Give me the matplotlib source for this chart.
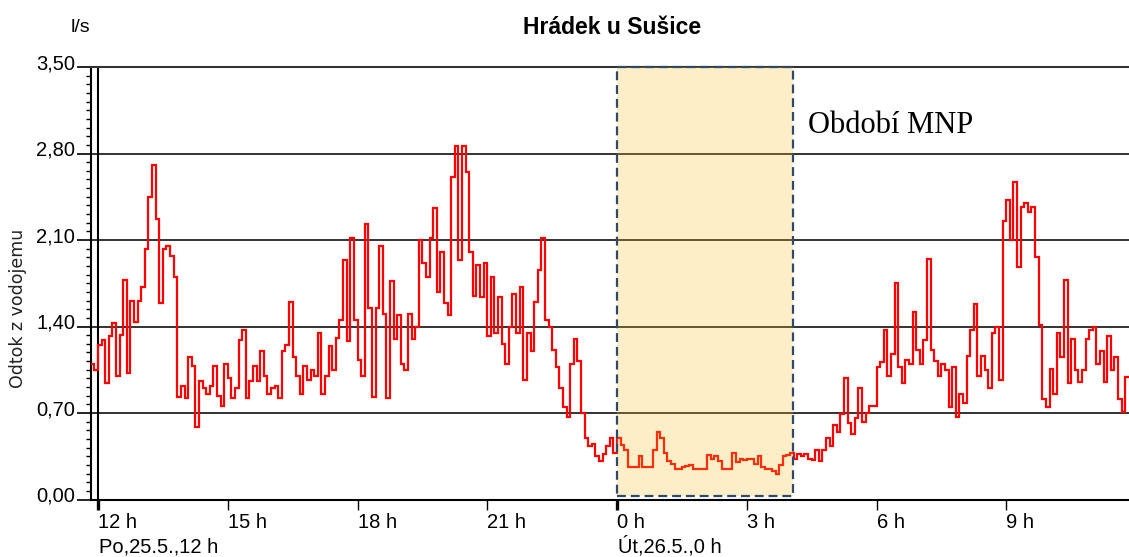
import numpy as np
import matplotlib
matplotlib.use("Agg")
import matplotlib.pyplot as plt
from matplotlib.ticker import MultipleLocator, FuncFormatter
from matplotlib.transforms import ScaledTranslation
from matplotlib.patches import Rectangle

plt.rcParams['font.family'] = ['Liberation Sans', 'DejaVu Sans']

# outflow from the reservoir, l/s, one value every 5 minutes from 11:50 (Po 25.5.)
start_min = -10          # minutes relative to 12:00
step_min = 5
flow = [
    1.10, 1.05, 1.25, 1.29, 0.94, 1.32, 1.43, 1.00, 1.33, 1.78,
    1.02, 1.61, 1.44, 1.61, 1.72, 2.03, 2.45, 2.71, 2.27, 1.59,
    2.03, 2.05, 1.97, 1.80, 0.83, 0.92, 0.82, 1.15, 1.08, 0.59,
    0.96, 0.90, 0.85, 0.92, 1.08, 0.84, 0.76, 1.10, 0.98, 0.82,
    0.90, 1.29, 1.37, 0.82, 0.96, 1.08, 0.96, 1.20, 1.00, 0.85,
    0.90, 0.92, 0.82, 1.20, 1.25, 1.60,
    1.15, 1.00, 0.85, 1.08,
    0.97, 1.05, 1.00, 1.35, 0.85, 1.00, 1.24, 1.05, 1.31, 1.45,
    1.94, 1.28, 2.12, 1.45, 1.13, 1.00, 2.23, 1.55, 0.83, 1.55,
    2.05, 1.50, 0.82, 1.77, 1.30, 1.49, 1.10, 1.05, 1.50, 1.30,
    1.40, 2.10, 1.91, 1.80, 2.12, 2.36, 1.68, 2.00, 1.59, 1.49,
    2.61, 2.86, 1.94, 2.86, 2.65, 2.00, 1.65, 1.90, 1.64, 1.91,
    1.32, 1.80, 1.35, 1.64, 1.26, 1.10, 1.40, 1.66, 1.35, 1.72,
    0.97, 1.35, 1.20, 1.60, 1.86, 2.12, 1.45, 1.40, 1.21, 1.07,
    0.90, 0.75, 0.67, 1.10, 1.30, 1.12, 0.70, 0.50, 0.43, 0.45,
    0.35, 0.31, 0.37, 0.43, 0.50, 0.38, 0.50, 0.44, 0.40, 0.26,
    0.26, 0.26, 0.35, 0.26, 0.26, 0.26, 0.40, 0.55, 0.50, 0.38,
    0.31, 0.29, 0.25, 0.25, 0.26, 0.27, 0.28, 0.25, 0.25, 0.25,
    0.25, 0.36, 0.33, 0.35, 0.31, 0.25, 0.25, 0.25, 0.38, 0.30,
    0.33, 0.32, 0.33, 0.33, 0.29, 0.35, 0.26, 0.25, 0.25, 0.23,
    0.21, 0.28, 0.35, 0.36, 0.38, 0.33, 0.37, 0.35, 0.37, 0.33,
    0.32, 0.40, 0.31, 0.40, 0.50, 0.43, 0.60, 0.55, 0.69, 0.98,
    0.62, 0.53, 0.66, 0.90, 0.63, 0.70, 0.76, 0.76, 1.07, 1.11,
    1.37, 1.00, 1.18, 1.75, 1.07, 0.94, 1.13, 1.10, 1.52, 1.21,
    1.10, 1.29, 1.95, 1.21, 1.12, 1.00, 1.10, 1.05, 0.75, 1.07,
    0.67, 0.85, 0.78, 1.16, 1.37, 1.58, 1.00, 1.16, 1.05, 0.90,
    1.35, 1.40, 0.97, 2.25, 2.42, 2.10, 2.57, 1.88, 2.37, 2.40,
    2.33, 2.37, 1.96, 1.41, 0.81, 0.75, 1.06, 0.85, 1.35, 1.15,
    1.78, 0.94, 1.30, 1.05, 0.95, 1.05, 1.30, 1.37, 1.40, 1.10,
    1.20, 0.95, 1.32, 1.05, 1.15, 0.81, 0.71, 0.99,
]

tick_hours = [0, 3, 6, 9, 12, 15, 18, 21]
tick_labels = ['12 h', '15 h', '18 h', '21 h', '0 h', '3 h', '6 h', '9 h']
day_labels = {0: 'Po,25.5.,12 h', 12: 'Út,26.5.,0 h'}
mnp_start_min = 12 * 60      # 0:00
mnp_end_min = 12 * 60 + 244  # ~4:04

edges = (start_min + step_min * np.arange(len(flow) + 1)) / 60.0

fig = plt.figure(figsize=(11.29, 5.57), dpi=100)
W, H = 1129, 557
ax = fig.add_axes([91 / W, 1 - 499.5 / H, 1 - 91 / W, (499.5 - 67) / H])

ax.stairs(flow, edges, baseline=None, color='#ff0000', lw=1.6, zorder=3)

# night minimum window
x0, x1 = mnp_start_min / 60, mnp_end_min / 60
ax.add_patch(Rectangle((x0, 0.03), x1 - x0, 3.47, facecolor=(250/255, 191/255, 39/255),
                       alpha=0.25, edgecolor='none', zorder=4))
ax.add_patch(Rectangle((x0, 0.03), x1 - x0, 3.47, fill=False, edgecolor='#2e4a6a',
                       lw=1.6, linestyle=(0, (4, 2.2)), zorder=5, clip_on=False))
ax.text(x1 + 0.35, 3.03, 'Období MNP', family=['Liberation Serif', 'DejaVu Serif'],
        fontsize=22, va='center', ha='left', zorder=6)

ax.set_xlim(-0.162, 23.838)
ax.set_ylim(0, 3.5)

ax.yaxis.set_major_locator(MultipleLocator(0.7))
ax.yaxis.set_minor_locator(MultipleLocator(0.07))
ax.yaxis.set_major_formatter(FuncFormatter(lambda v, p: f"{v:.2f}".replace('.', ',')))
ax.tick_params(axis='y', which='major', length=10, width=1.2, pad=1.5, labelsize=14.5)
ax.tick_params(axis='y', which='minor', length=3.6, width=1.0)
ax.grid(axis='y', color='#111111', lw=1.2)
ax.set_axisbelow(True)

ax.set_xticks(tick_hours)
ax.set_xticklabels(tick_labels, ha='left')
ax.tick_params(axis='x', length=7, width=1.0, pad=3, labelsize=14.5)
for tk in ax.xaxis.get_major_ticks():
    if tk.get_loc() in day_labels:
        tk.tick1line.set_markeredgewidth(2.4)

for lbl in ax.get_yticklabels():
    lbl.set_transform(lbl.get_transform() + ScaledTranslation(0, 0.055, fig.dpi_scale_trans))

ax.axvline(0, color='black', lw=1.5, zorder=2)
ax.spines['right'].set_visible(False)
ax.spines['top'].set_color('#333333')
ax.spines['top'].set_linewidth(1.5)
for s in ('left', 'bottom'):
    ax.spines[s].set_linewidth(1.5)
    ax.spines[s].set_color('black')

for h, txt in day_labels.items():
    ax.annotate(txt, xy=(h, 0), xycoords=('data', 'axes fraction'),
                xytext=(1, -53), textcoords='offset pixels',
                ha='left', va='baseline', fontsize=14.5)

fig.text(612 / W, 1 - 28 / H, 'Hrádek u Sušice', ha='center', va='center',
         fontsize=16.5, fontweight='bold')
fig.text(80 / W, 1 - 27 / H, 'l/s', ha='center', va='center', fontsize=14)
fig.text(18 / W, 1 - 308 / H, 'Odtok z vodojemu', ha='center', va='center',
         rotation=90, fontsize=12.5, color='#222222', family=['DejaVu Sans'])

fig.savefig('out.png', dpi=100)
